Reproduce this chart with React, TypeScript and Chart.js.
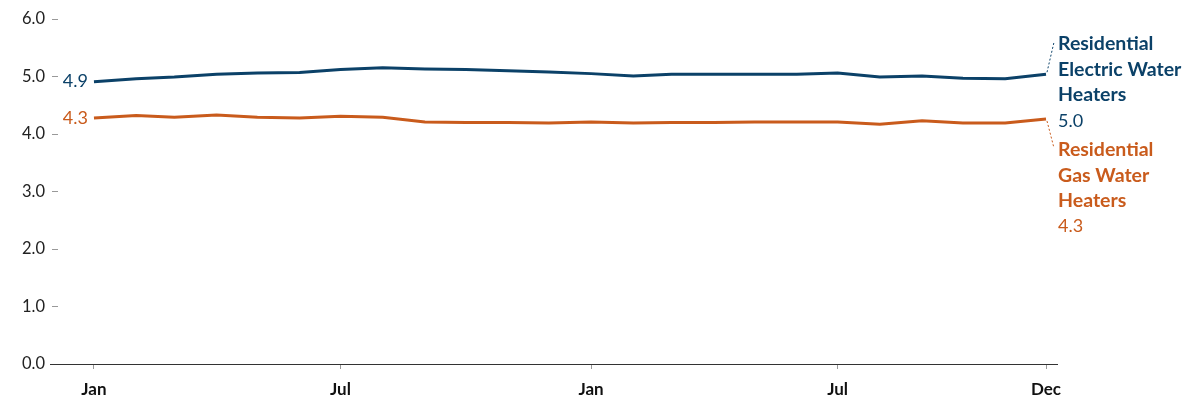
import { useEffect, useRef } from 'react';
import { Chart, registerables } from 'chart.js';

Chart.register(...registerables);

// Day offsets (from Jan 1 of the first year) for each monthly observation
const monthDays = [0, 31, 59, 90, 120, 151, 181, 212, 243, 273, 304, 334, 365, 396, 424, 455, 485, 516, 546, 577, 608, 638, 669, 699];

const electricValues = [4.91, 4.96, 4.99, 5.04, 5.06, 5.07, 5.12, 5.15, 5.13, 5.12, 5.10, 5.08, 5.05, 5.01, 5.04, 5.04, 5.04, 5.04, 5.06, 4.99, 5.01, 4.97, 4.96, 5.04];
const gasValues = [4.28, 4.32, 4.29, 4.33, 4.29, 4.28, 4.31, 4.29, 4.21, 4.20, 4.20, 4.19, 4.21, 4.19, 4.20, 4.20, 4.21, 4.21, 4.21, 4.17, 4.23, 4.19, 4.19, 4.26];

const xTickDays = [0, 181, 365, 546, 699];
const xTickLabels = ['Jan', 'Jul', 'Jan', 'Jul', 'Dec'];

const electricName = ['Residential', 'Electric Water', 'Heaters'];
const gasName = ['Residential', 'Gas Water', 'Heaters'];

const BLUE = '#0b4168';
const ORANGE = '#c95b1c';
const FONT = 'Lato, "Open Sans", sans-serif';

const labelPlugin = {
  id: 'seriesLabels',
  afterDatasetsDraw(chart: any) {
    const { ctx, chartArea, scales } = chart;
    const y0 = scales.y.getPixelForValue(0);
    ctx.save();
    // baseline
    ctx.strokeStyle = '#333';
    ctx.lineWidth = 1;
    ctx.beginPath();
    ctx.moveTo(chartArea.left - 8, Math.round(y0) + 0.5);
    ctx.lineTo(chartArea.right, Math.round(y0) + 0.5);
    ctx.stroke();

    const blocks = [
      { idx: 0, name: electricName, color: BLUE, dir: -1 },
      { idx: 1, name: gasName, color: ORANGE, dir: 1 },
    ];
    const lineH = 25.5;
    blocks.forEach((b) => {
      const ds = chart.data.datasets[b.idx];
      const meta = chart.getDatasetMeta(b.idx);
      const first = meta.data[0];
      const last = meta.data[meta.data.length - 1];
      const firstVal = ds.data[0].y;
      const lastVal = ds.data[ds.data.length - 1].y;

      // start value
      ctx.font = `18px ${FONT}`;
      ctx.fillStyle = b.color;
      ctx.textAlign = 'right';
      ctx.textBaseline = 'middle';
      ctx.fillText(firstVal.toFixed(1), first.x - 6, first.y);

      // end label block
      const textX = chartArea.right;
      const topY = b.dir < 0 ? last.y - 30 : last.y + 31;
      // dotted leader
      ctx.strokeStyle = b.color;
      ctx.lineWidth = 1;
      ctx.setLineDash([2, 2]);
      ctx.beginPath();
      ctx.moveTo(last.x + 1, last.y + (b.dir < 0 ? -2 : 2));
      ctx.lineTo(textX - 4, topY - 2);
      ctx.stroke();
      ctx.setLineDash([]);

      ctx.textAlign = 'left';
      ctx.font = `bold 19.5px ${FONT}`;
      b.name.forEach((line, i) => {
        ctx.fillText(line, textX, topY + i * lineH);
      });
      ctx.font = `18px ${FONT}`;
      ctx.fillText(lastVal.toFixed(1), textX, topY + b.name.length * lineH);
    });
    ctx.restore();
  },
};

export default function App() {
  const canvasRef = useRef<HTMLCanvasElement | null>(null);

  useEffect(() => {
    if (!canvasRef.current) return;
    Chart.defaults.font.family = FONT;
    const toPoints = (vals: number[]) => vals.map((v, i) => ({ x: monthDays[i], y: v }));
    const chart = new Chart(canvasRef.current, {
      type: 'line',
      data: {
        datasets: [
          {
            label: 'Residential Electric Water Heaters',
            data: toPoints(electricValues),
            borderColor: BLUE,
            borderWidth: 3,
            pointRadius: 0,
            tension: 0,
          },
          {
            label: 'Residential Gas Water Heaters',
            data: toPoints(gasValues),
            borderColor: ORANGE,
            borderWidth: 3,
            pointRadius: 0,
            tension: 0,
          },
        ],
      },
      options: {
        animation: false,
        responsive: true,
        maintainAspectRatio: false,
        layout: { padding: { top: 19, right: 128, bottom: 0, left: 0 } },
        plugins: {
          legend: { display: false },
          tooltip: { enabled: false },
        },
        scales: {
          x: {
            type: 'linear',
            min: -26.4,
            max: 707.8,
            border: { display: false },
            grid: { drawOnChartArea: false, drawTicks: true, tickLength: 5, color: '#999' },
            afterBuildTicks: (scale: any) => {
              scale.ticks = xTickDays.map((v) => ({ value: v }));
            },
            afterFit: (scale: any) => {
              scale.height = 36;
            },
            ticks: {
              autoSkip: false,
              maxRotation: 0,
              padding: 10,
              color: '#111',
              font: { size: 17, weight: 'bold' },
              callback: (v: any) => {
                const i = xTickDays.indexOf(Number(v));
                return i >= 0 ? xTickLabels[i] : '';
              },
            },
          },
          y: {
            min: 0,
            max: 6,
            border: { display: false },
            grid: { drawOnChartArea: false, drawTicks: true, tickLength: 6, color: '#999' },
            afterFit: (scale: any) => {
              scale.width = 58;
            },
            ticks: {
              stepSize: 1,
              padding: 7,
              color: '#222',
              font: { size: 16.5 },
              callback: (v: any) => Number(v).toFixed(1),
            },
          },
        },
      },
      plugins: [labelPlugin],
    });
    return () => chart.destroy();
  }, []);

  return (
    <div style={{ position: 'fixed', left: 0, top: 0, width: 1186, height: 400, background: '#fff' }}>
      <canvas ref={canvasRef} />
    </div>
  );
}
